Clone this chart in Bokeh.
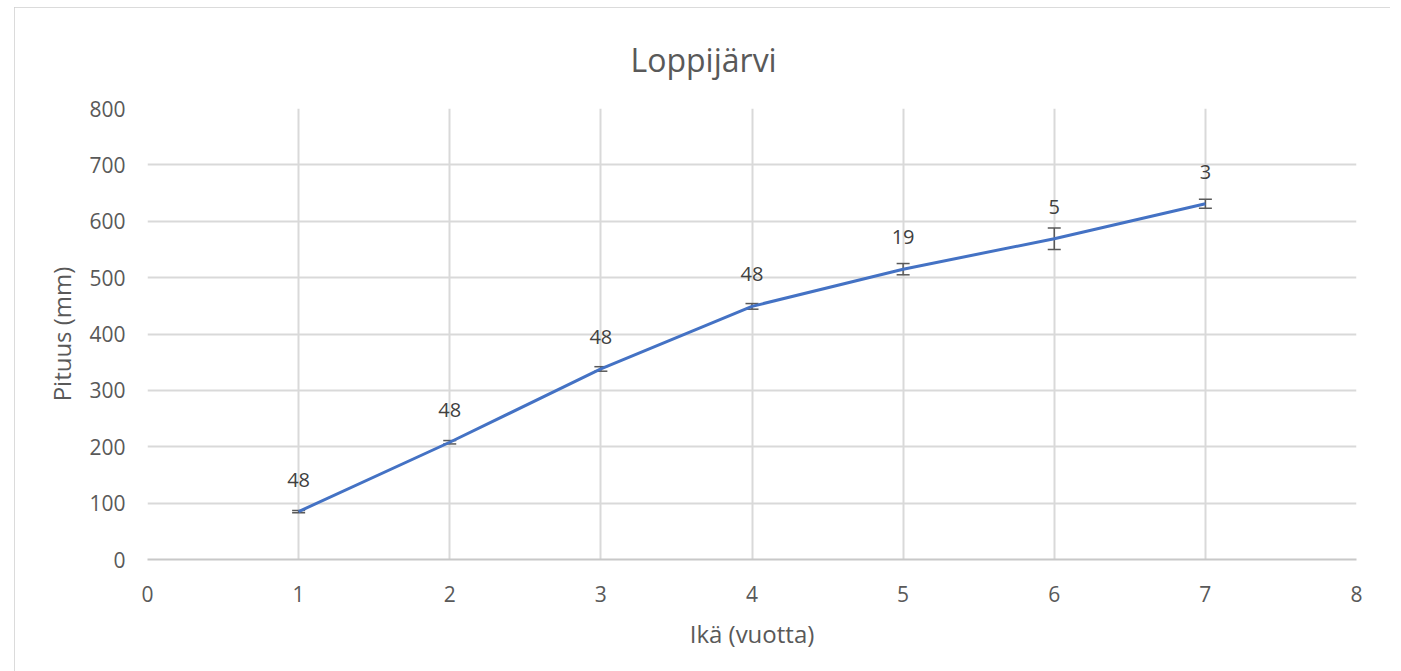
from bokeh.plotting import figure
from bokeh.models import ColumnDataSource, Whisker, TeeHead, LabelSet, Title, FixedTicker, Range1d
from bokeh.core.properties import value
from bokeh.embed import file_html
from bokeh.resources import INLINE

ages = [1, 2, 3, 4, 5, 6, 7]
lengths = [85, 208, 338, 449, 515, 569, 631]
errors = [2, 3, 4, 5, 10, 19, 8]
counts = ["48", "48", "48", "48", "19", "5", "3"]
x_ticks = [0, 1, 2, 3, 4, 5, 6, 7, 8]
y_ticks = [0, 100, 200, 300, 400, 500, 600, 700, 800]

FONT = "Open Sans"
TXT = "#595959"
GRID = "#d9d9d9"

src = ColumnDataSource(dict(
    x=ages, y=lengths,
    upper=[l + e for l, e in zip(lengths, errors)],
    lower=[l - e for l, e in zip(lengths, errors)],
    n=counts,
))

p = figure(width=1376, height=664, output_backend="svg", toolbar_location=None,
           x_range=Range1d(0, 8), y_range=Range1d(0, 800),
           min_border_left=133, min_border_right=34, min_border_top=100, min_border_bottom=112)
p.margin = (7, 0, 0, 14)
p.styles = {"outline": "2px solid #cfcfcf", "outline-offset": "-2px"}
p.outline_line_color = None
p.background_fill_color = "white"
p.border_fill_color = "white"

p.xaxis.ticker = FixedTicker(ticks=x_ticks)
p.yaxis.ticker = FixedTicker(ticks=y_ticks)
for ax in (p.xaxis, p.yaxis):
    ax.major_tick_line_color = None
    ax.minor_tick_line_color = None
    ax.major_label_text_font = FONT
    ax.major_label_text_font_size = "21px"
    ax.major_label_text_color = TXT
    ax.axis_label_text_font = FONT
    ax.axis_label_text_font_size = "24px"
    ax.axis_label_text_color = TXT
    ax.axis_label_text_font_style = "normal"
p.xaxis.axis_line_color = "#c8c8c8"
p.xaxis.axis_line_width = 2
p.yaxis.axis_line_color = None
p.xaxis.major_label_standoff = 20
p.yaxis.major_label_standoff = 16
p.xaxis.axis_label = "Ikä (vuotta)"
p.yaxis.axis_label = "Pituus (mm)"
p.xaxis.axis_label_standoff = 12
p.yaxis.axis_label_standoff = 8

p.xgrid.grid_line_color = GRID
p.ygrid.grid_line_color = GRID
p.xgrid.grid_line_width = 2
p.ygrid.grid_line_width = 2

p.line("x", "y", source=src, line_color="#4472C4", line_width=3)

w = Whisker(source=src, base="x", upper="upper", lower="lower",
            line_color="#595959", line_width=1.5,
            upper_head=TeeHead(size=13, line_color="#595959", line_width=1.5),
            lower_head=TeeHead(size=13, line_color="#595959", line_width=1.5))
p.add_layout(w)

labels = LabelSet(source=src, x="x", y="y", text="n", y_offset=32,
                  text_align="center", text_baseline="middle",
                  text_font=value(FONT), text_font_size=value("20px"), text_color="#404040")
p.add_layout(labels)

title = Title(text="Loppijärvi", align="left", offset=483, standoff=56,
              text_font=FONT, text_font_size="32px", text_color=TXT, text_font_style="normal")
p.add_layout(title, "above")

open("out.html", "w").write(file_html(p, INLINE))
